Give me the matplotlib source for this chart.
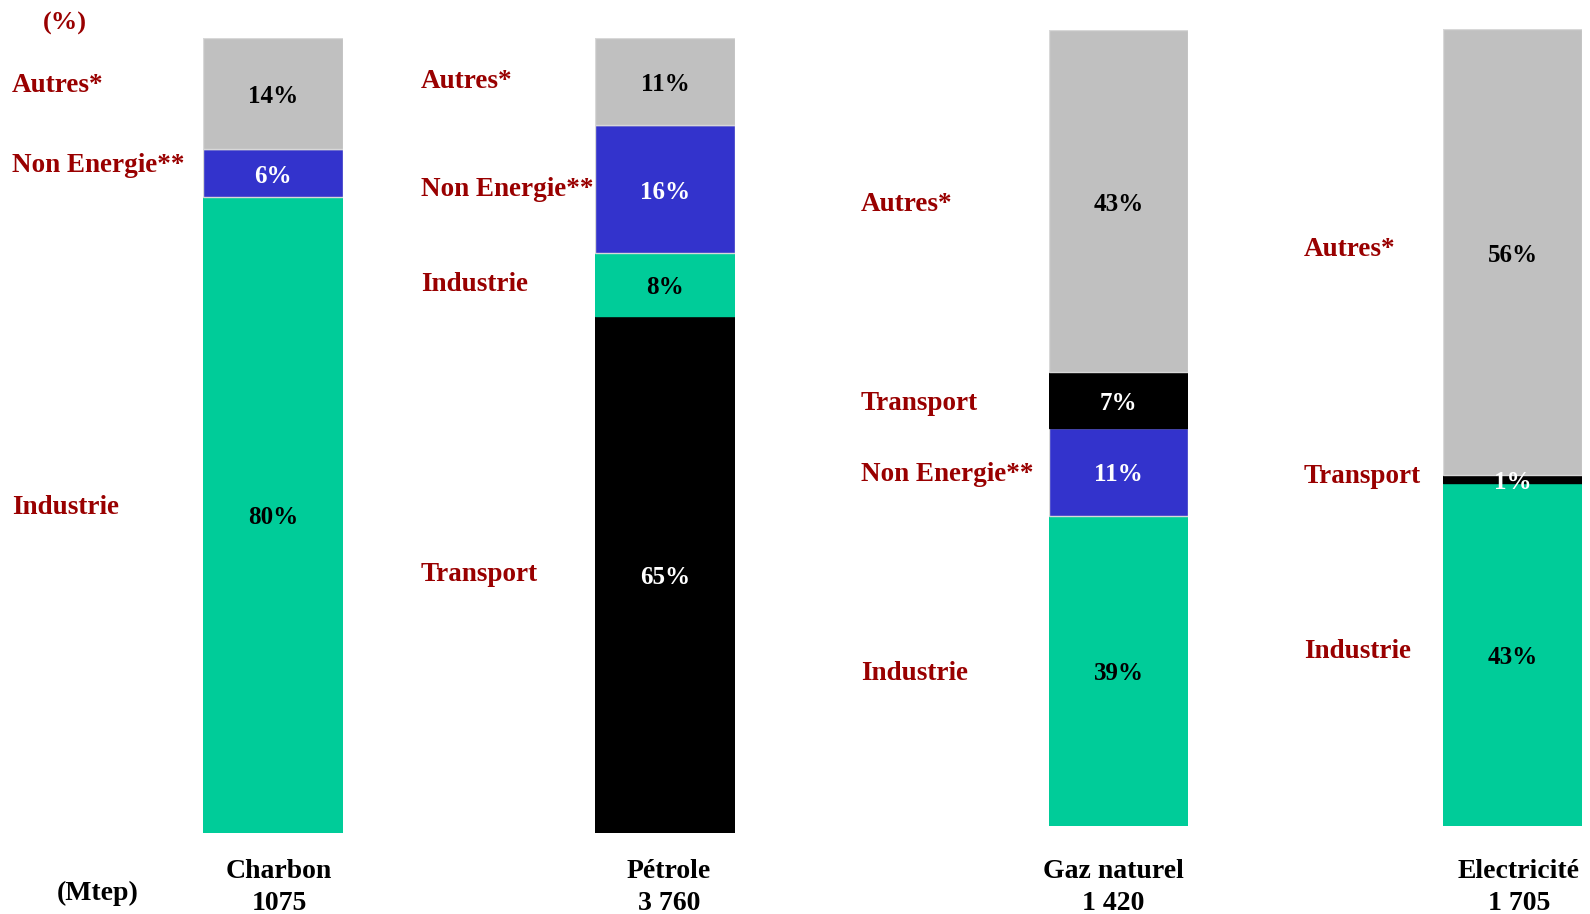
import matplotlib.pyplot as plt
import matplotlib.transforms as mtransforms

plt.rcParams['font.family'] = ['Liberation Serif', 'DejaVu Serif']
plt.rcParams['font.weight'] = 'bold'

sources = ['Charbon', 'Pétrole', 'Gaz naturel', 'Electricité']
totals = ['1075', '3 760', '1 420', '1 705']

# sectors per bar, bottom to top
charbon_sectors = ['Industrie', 'Non Energie', 'Autres']
charbon_shares = [80, 6, 14]
petrole_sectors = ['Transport', 'Industrie', 'Non Energie', 'Autres']
petrole_shares = [65, 8, 16, 11]
gaz_sectors = ['Industrie', 'Non Energie', 'Transport', 'Autres']
gaz_shares = [39, 11, 7, 43]
elec_sectors = ['Industrie', 'Transport', 'Autres']
elec_shares = [43, 1, 56]

sector_names = {'Industrie': 'Industrie', 'Non Energie': 'Non Energie**',
                'Autres': 'Autres*', 'Transport': 'Transport'}
colors = {'Industrie': '#00CC99', 'Non Energie': '#3333CC',
          'Autres': '#C0C0C0', 'Transport': '#000000'}
text_colors = {'Industrie': 'black', 'Non Energie': 'white',
               'Autres': 'black', 'Transport': 'white'}
label_red = '#990000'

W, H = 1590, 914
fig = plt.figure(figsize=(W / 100, H / 100), dpi=100)

# bar boxes in pixels: left, right, top, bottom
boxes = [(203, 343, 38, 833), (595, 735, 38, 833),
         (1049, 1188, 30, 826), (1443, 1582, 29, 826)]
label_x = [12, 421, 861, 1304]
label_shift = [8, 0, -3, 3]   # px upward nudge of sector labels
name_x = [279, 669, 1113, 1519]

bars = [(charbon_sectors, charbon_shares), (petrole_sectors, petrole_shares),
        (gaz_sectors, gaz_shares), (elec_sectors, elec_shares)]

for i, (sectors, shares) in enumerate(bars):
    l, r, t, b = boxes[i]
    ax = fig.add_axes([l / W, 1 - b / H, (r - l) / W, (b - t) / H])
    ax.set_xlim(-0.5, 0.5)
    ax.set_ylim(0, 100)
    ax.axis('off')
    trans = mtransforms.blended_transform_factory(fig.transFigure, ax.transData)
    lab_trans = trans + mtransforms.ScaledTranslation(0, label_shift[i] / 100, fig.dpi_scale_trans)
    pct_trans = ax.transData + mtransforms.ScaledTranslation(0, -3 / 100, fig.dpi_scale_trans)
    bottom = 0
    for s, v in zip(sectors, shares):
        ec = '#D8D8D8' if s in ('Autres', 'Non Energie') else colors[s]
        ax.bar(0, v, bottom=bottom, width=1, color=colors[s], edgecolor=ec,
               linewidth=1)
        mid = bottom + v / 2
        ax.text(0, mid, f'{v}%', ha='center', va='center', fontsize=18,
                color=text_colors[s], fontweight='bold', transform=pct_trans)
        fig.text(label_x[i] / W, mid, sector_names[s], transform=lab_trans,
                 ha='left', va='center', fontsize=19.5, color=label_red,
                 fontweight='bold')
        bottom += v
    fig.text(name_x[i] / W, 1 - 872 / H, sources[i], ha='center', va='center',
             fontsize=20, fontweight='bold')
    fig.text(name_x[i] / W, 1 - 904 / H, totals[i], ha='center', va='center',
             fontsize=20, fontweight='bold')

fig.text(65 / W, 1 - 23 / H, '(%)', ha='center', va='center', fontsize=19,
         color=label_red, fontweight='bold')
fig.text(98 / W, 1 - 893 / H, '(Mtep)', ha='center', va='center', fontsize=20,
         fontweight='bold')

fig.savefig('out.png', dpi=100)
